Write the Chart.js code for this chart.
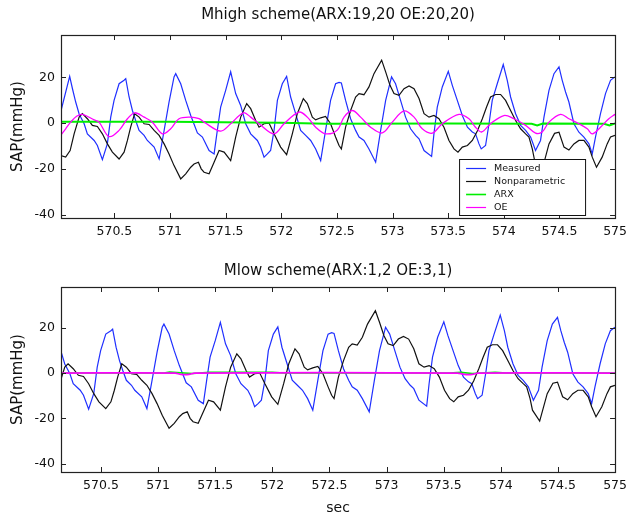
<!DOCTYPE html>
<html>
<head>
<meta charset="utf-8">
<title>SAP model comparison</title>
<script src="https://cdn.jsdelivr.net/npm/chart.js@4.4.1/dist/chart.umd.min.js"></script>
<style>
  body { margin: 0; background: #fff; }
  .panel { position: absolute; left: 0; width: 633px; height: 259px; }
  #top { top: 0; }
  #bottom { top: 259px; }
</style>
</head>
<body>
<div class="panel" id="top"><canvas id="chartHigh"></canvas></div>
<div class="panel" id="bottom"><canvas id="chartLow"></canvas></div>
<script>
// series labels and colours, in legend order
const seriesNames = ['Measured', 'Nonparametric', 'ARX', 'OE'];
const seriesColors = ['#1f2fff', '#111111', '#00ee00', '#ff00ff'];

const xTicks = [570.5, 571, 571.5, 572, 572.5, 573, 573.5, 574, 574.5, 575];
const yTicks = [-40, -20, 0, 20];

// measured SAP (mmHg) vs time (sec)
const timeMeasured = [
  570.017, 570.098, 570.123, 570.152, 570.183, 570.228, 570.257, 570.318, 570.347, 570.392,
  570.437, 570.467, 570.497, 570.542, 570.587, 570.602, 570.632, 570.662, 570.691, 570.722,
  570.767, 570.796, 570.857, 570.902, 570.947, 570.991, 571.036, 571.051, 571.096, 571.141,
  571.186, 571.246, 571.291, 571.351, 571.396, 571.425, 571.455, 571.500, 571.545, 571.590,
  571.635, 571.680, 571.725, 571.785, 571.814, 571.845, 571.875, 571.904, 571.935, 571.965,
  572.009, 572.048, 572.084, 572.129, 572.174, 572.219, 572.264, 572.309, 572.354, 572.398,
  572.443, 572.488, 572.519, 572.540, 572.578, 572.623, 572.668, 572.699, 572.743, 572.788,
  572.848, 572.893, 572.938, 572.991, 573.027, 573.072, 573.117, 573.162, 573.207, 573.238,
  573.283, 573.351, 573.372, 573.402, 573.447, 573.501, 573.537, 573.582, 573.627, 573.673,
  573.717, 573.746, 573.777, 573.797, 573.836, 573.867, 573.896, 573.941, 573.995, 574.031,
  574.061, 574.106, 574.151, 574.196, 574.241, 574.285, 574.330, 574.361, 574.406, 574.451,
  574.496, 574.525, 574.555, 574.585, 574.630, 574.675, 574.720, 574.765, 574.795, 574.824,
  574.869, 574.914, 574.959, 574.999
];
const sapMeasured = [
  4.8, 20.4, 15.0, 9.2, 4.0, -0.3, -4.7, -7.6, -9.8, -16.0,
  -9.0, 2.6, 9.9, 17.2, 18.7, 19.4, 11.4, 5.5, 1.1, -3.2,
  -5.4, -7.6, -10.5, -15.7, -3.2, 9.2, 20.2, 21.6, 17.2, 9.9,
  3.3, -4.3, -6.1, -12.0, -13.5, -3.2, 7.0, 14.3, 22.4, 12.9,
  7.7, -0.3, -4.7, -7.6, -10.5, -14.9, -13.5, -12.0, -3.2, 9.9,
  17.2, 20.4, 11.4, 4.1, -3.2, -5.4, -7.6, -11.3, -16.4, -3.2,
  9.9, 17.2, 17.8, 17.5, 9.9, 1.9, -3.2, -6.1, -7.6, -11.3,
  -17.1, -3.2, 9.9, 20.2, 17.2, 9.9, 2.6, -2.5, -5.4, -6.9,
  -12.0, -14.6, -4.7, 7.0, 15.8, 22.6, 16.5, 9.9, 3.3, -1.8,
  -3.9, -4.7, -9.1, -11.3, -9.8, -0.3, 9.9, 17.2, 25.6, 18.7,
  11.4, 4.1, -1.0, -3.2, -6.1, -12.0, -7.6, 2.6, 14.3, 21.6,
  24.6, 18.7, 13.6, 9.2, -0.3, -4.0, -6.1, -9.1, -13.5, -6.1,
  4.1, 12.9, 18.7, 20.2
];

// nonparametric model output
const timeNonpar = [
  570.017, 570.062, 570.102, 570.138, 570.183, 570.212, 570.257, 570.302, 570.347, 570.392,
  570.437, 570.482, 570.542, 570.587, 570.617, 570.646, 570.682, 570.722, 570.767, 570.812,
  570.857, 570.902, 570.947, 570.991, 571.036, 571.096, 571.141, 571.186, 571.216, 571.255,
  571.280, 571.306, 571.351, 571.396, 571.441, 571.486, 571.545, 571.590, 571.635, 571.689,
  571.725, 571.770, 571.800, 571.845, 571.890, 571.935, 571.994, 572.048, 572.099, 572.144,
  572.198, 572.234, 572.279, 572.309, 572.354, 572.398, 572.443, 572.488, 572.519, 572.540,
  572.578, 572.623, 572.668, 572.699, 572.743, 572.788, 572.833, 572.902, 572.938, 572.977,
  573.013, 573.058, 573.103, 573.148, 573.193, 573.238, 573.283, 573.328, 573.372, 573.417,
  573.462, 573.507, 573.552, 573.588, 573.627, 573.673, 573.717, 573.762, 573.807, 573.845,
  573.881, 573.926, 573.971, 574.016, 574.061, 574.106, 574.151, 574.196, 574.226, 574.256,
  574.277, 574.340, 574.406, 574.456, 574.496, 574.541, 574.585, 574.630, 574.675, 574.720,
  574.765, 574.795, 574.833, 574.884, 574.929, 574.959, 574.999
];
const sapNonpar = [
  -14.2, -14.9, -12.0, -4.7, 2.6, 4.1, 1.9, -1.0, -1.5, -4.7,
  -9.1, -12.7, -15.7, -12.7, -7.6, -1.8, 4.1, 2.6, -0.3, -0.6,
  -3.2, -5.4, -9.1, -13.5, -18.6, -24.4, -22.2, -19.3, -17.9, -17.1,
  -20.0, -21.5, -22.2, -17.1, -12.0, -12.7, -16.4, -6.1, 2.6, 8.5,
  6.3, 1.1, -1.8, -0.3, 0.0, -4.7, -10.5, -13.8, -4.7, 4.1,
  10.7, 8.5, 2.6, 1.4, 2.3, 2.9, -0.3, -6.1, -9.8, -11.3,
  -1.8, 5.5, 11.4, 12.9, 12.4, 15.8, 21.6, 27.5, 22.4, 16.5,
  12.9, 12.1, 15.0, 16.2, 15.0, 10.7, 4.1, 2.6, 3.3, 1.9,
  -1.8, -7.6, -11.3, -12.7, -10.5, -9.8, -7.6, -3.5, 1.9, 7.0,
  11.4, 12.5, 12.5, 9.9, 5.5, 1.1, -2.5, -4.7, -6.1, -11.3,
  -16.4, -21.2, -9.1, -4.5, -4.0, -10.5, -11.8, -9.1, -7.6, -7.6,
  -10.5, -14.9, -19.3, -14.9, -9.1, -6.1, -5.4
];

// Mhigh scheme model outputs
const timeArxHigh = [570.017, 571.0, 571.7, 572.0, 572.4, 573.5, 574.25, 574.30, 574.35, 574.90, 574.95, 575.0];
const sapArxHigh = [0.6, 0.6, 0.3, 0.1, -0.3, -0.2, -0.3, -1.0, -0.2, -0.3, -1.0, -0.2];

const timeOeHigh = [
  570.017, 570.062, 570.107, 570.160, 570.212, 570.318, 570.362, 570.452, 570.542, 570.617,
  570.682, 570.767, 570.841, 570.931, 571.006, 571.081, 571.186, 571.261, 571.306, 571.455,
  571.545, 571.659, 571.725, 571.800, 571.935, 572.025, 572.159, 572.234, 572.309, 572.398,
  572.504, 572.564, 572.638, 572.713, 572.803, 572.908, 572.998, 573.103, 573.193, 573.267,
  573.357, 573.447, 573.597, 573.687, 573.740, 573.800, 573.881, 574.001, 574.091, 574.196,
  574.285, 574.345, 574.406, 574.510, 574.585, 574.675, 574.750, 574.795, 574.869, 574.944,
  575.000
];
const sapOeHigh = [
  -5.4, -2.5, 0.4, 3.0, 3.8, 1.4, 0.4, -5.9, -3.2, 1.9,
  4.5, 2.6, 0.4, -4.7, -2.5, 1.9, 2.6, 1.9, 0.4, -3.5,
  -0.3, 4.5, 2.6, -0.3, -4.7, -0.3, 4.8, 2.6, -1.8, -4.7,
  -3.0, 2.6, 5.5, 2.6, -1.8, -4.3, 0.4, 5.3, 2.6, -2.5,
  -4.4, -0.3, 3.8, 1.9, -1.5, -3.9, -0.3, 3.3, 1.9, -1.0,
  -4.4, -3.9, 0.4, 3.8, 1.9, -0.3, -2.5, -4.7, -1.8, 1.9,
  3.8
];

// Mlow scheme model outputs (both stay close to zero)
const timeArxLow = [570.15, 571.05, 571.10, 571.30, 571.45, 571.65, 572.00, 572.10, 573.55, 573.65, 573.75, 573.95, 574.05, 575.0];
const sapArxLow = [0, 0, 0.4, -0.2, 0.3, 0.3, 0.3, 0, 0, 0.3, -0.2, 0.3, 0, 0];

const timeOeLow = [570.15, 571.15, 571.20, 571.27, 571.32, 573.62, 573.68, 573.75, 573.80, 575.0];
const sapOeLow = [0, 0, -0.6, -0.6, 0, 0, -0.6, -0.6, 0, 0];

const FONT = '"DejaVu Sans", "Liberation Sans", Arial, sans-serif';
const INK = '#111';

function pts(t, v) {
  return t.map((x, i) => ({ x: x, y: v[i] }));
}

// box around the axes with inward ticks on all four sides
const boxTicks = {
  id: 'boxTicks',
  afterDatasetsDraw(chart) {
    const { ctx, chartArea: a, scales: { x, y } } = chart;
    const len = 5;
    ctx.save();
    ctx.strokeStyle = '#222';
    ctx.lineWidth = 1;
    ctx.beginPath();
    xTicks.forEach(v => {
      const px = Math.round(x.getPixelForValue(v)) + 0.5;
      ctx.moveTo(px, a.bottom); ctx.lineTo(px, a.bottom - len);
      ctx.moveTo(px, a.top); ctx.lineTo(px, a.top + len);
    });
    yTicks.forEach(v => {
      const py = Math.round(y.getPixelForValue(v)) + 0.5;
      ctx.moveTo(a.left, py); ctx.lineTo(a.left + len, py);
      ctx.moveTo(a.right, py); ctx.lineTo(a.right - len, py);
    });
    ctx.stroke();
    ctx.lineWidth = 1.2;
    ctx.strokeRect(Math.round(a.left) + 0.5, Math.round(a.top) + 0.5,
      Math.round(a.width), Math.round(a.height));
    ctx.restore();
  }
};

// title centred over the axes rather than the whole canvas
const axesTitle = {
  id: 'axesTitle',
  afterDraw(chart, args, opts) {
    const { ctx, chartArea: a } = chart;
    ctx.save();
    ctx.font = '15px ' + FONT;
    ctx.fillStyle = INK;
    ctx.textAlign = 'center';
    ctx.textBaseline = 'middle';
    ctx.fillText(opts.text, (a.left + a.right) / 2, opts.y);
    ctx.restore();
  }
};

// boxed legend in the lower right of the axes
const boxLegend = {
  id: 'boxLegend',
  afterDatasetsDraw(chart, args, opts) {
    if (!opts.show) return;
    const { ctx, chartArea: a } = chart;
    const w = 126, h = 56;
    const left = a.right - 30 - w, top = a.bottom - 3 - h;
    ctx.save();
    ctx.fillStyle = '#fff';
    ctx.fillRect(left, top, w, h);
    ctx.strokeStyle = '#111';
    ctx.lineWidth = 1;
    ctx.strokeRect(left + 0.5, top + 0.5, w, h);
    ctx.font = '9.5px ' + FONT;
    ctx.textBaseline = 'middle';
    ctx.textAlign = 'left';
    seriesNames.forEach((name, i) => {
      const yy = top + 9.5 + i * 13;
      ctx.strokeStyle = seriesColors[i];
      ctx.lineWidth = i === 2 ? 1.6 : 1.2;
      ctx.beginPath();
      ctx.moveTo(left + 7, yy);
      ctx.lineTo(left + 27, yy);
      ctx.stroke();
      ctx.fillStyle = INK;
      ctx.fillText(name, left + 35, yy);
    });
    ctx.restore();
  }
};

function makeChart(id, cfg) {
  const widths = [1.2, 1.2, cfg.arxWidth, cfg.oeWidth];
  const series = [
    pts(timeMeasured, sapMeasured),
    pts(timeNonpar, sapNonpar),
    pts(cfg.arxT, cfg.arxV),
    pts(cfg.oeT, cfg.oeV)
  ];
  const datasets = series.map((d, i) => ({
    label: seriesNames[i],
    data: d,
    borderColor: seriesColors[i],
    borderWidth: widths[i],
    pointRadius: 0,
    tension: i === 3 ? 0.35 : 0,
    order: 3 - i
  }));

  return new Chart(document.getElementById(id), {
    type: 'line',
    data: { datasets: datasets },
    options: {
      responsive: true,
      maintainAspectRatio: false,
      animation: false,
      layout: { padding: { top: cfg.padTop, right: 17, bottom: 0, left: 0 } },
      plugins: {
        legend: { display: false },
        tooltip: { enabled: false },
        title: { display: false },
        axesTitle: { text: cfg.title, y: cfg.titleY },
        boxLegend: { show: cfg.legend }
      },
      scales: {
        x: {
          type: 'linear',
          min: cfg.xMin,
          max: 575,
          afterBuildTicks: s => { s.ticks = xTicks.map(v => ({ value: v })); },
          afterFit: s => { s.height = cfg.xHeight; },
          grid: { display: false, drawTicks: false },
          border: { display: false },
          ticks: {
            autoSkip: false,
            maxRotation: 0,
            padding: 6,
            color: INK,
            font: { family: FONT, size: 12.5 },
            callback: v => String(v)
          },
          title: {
            display: cfg.xTitle,
            text: 'sec',
            color: INK,
            font: { family: FONT, size: 14 },
            padding: { top: 0, bottom: 1 }
          }
        },
        y: {
          min: cfg.yMin,
          max: cfg.yMax,
          afterBuildTicks: s => { s.ticks = yTicks.map(v => ({ value: v })); },
          afterFit: s => { s.width = 61; },
          grid: { display: false, drawTicks: false },
          border: { display: false },
          ticks: {
            padding: 6,
            color: INK,
            font: { family: FONT, size: 12.5 },
            callback: v => String(v)
          },
          title: {
            display: true,
            text: 'SAP(mmHg)',
            color: INK,
            font: { family: FONT, size: 15 },
            padding: { top: 9, bottom: 0 }
          }
        }
      }
    },
    plugins: [boxTicks, boxLegend, axesTitle]
  });
}

makeChart('chartHigh', {
  title: 'Mhigh scheme(ARX:19,20 OE:20,20)',
  xMin: 570.02, yMin: -41.5, yMax: 38.5,
  arxT: timeArxHigh, arxV: sapArxHigh, arxWidth: 2,
  oeT: timeOeHigh, oeV: sapOeHigh, oeWidth: 1.3,
  padTop: 35, titleY: 15, xHeight: 41,
  legend: true, xTitle: false
});

makeChart('chartLow', {
  title: 'Mlow scheme(ARX:1,2 OE:3,1)',
  xMin: 570.15, yMin: -43.7, yMax: 38,
  arxT: timeArxLow, arxV: sapArxLow, arxWidth: 1.6,
  oeT: timeOeLow, oeV: sapOeLow, oeWidth: 1.8,
  padTop: 28, titleY: 12, xHeight: 46,
  legend: false, xTitle: true
});
</script>
</body>
</html>
